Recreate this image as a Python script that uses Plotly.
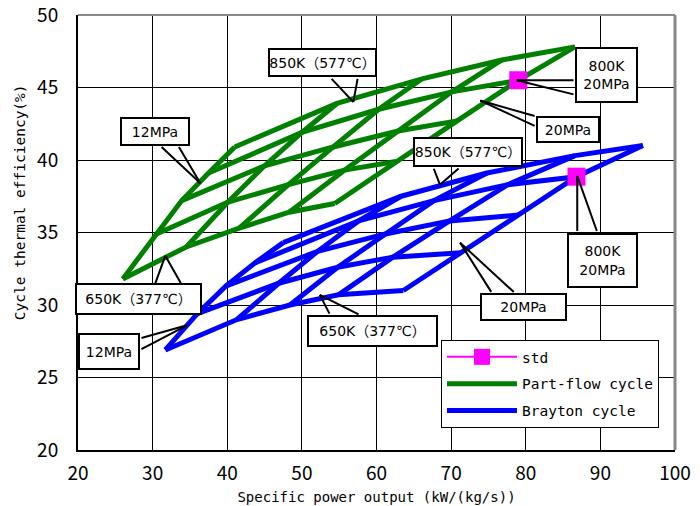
import plotly.graph_objects as go

# Grid parameters
temps_K = [650, 700, 750, 800, 850]
press_MPa = [12, 14, 16, 18, 20]

# Part-flow cycle: rows = temperature, cols = pressure
pf_power = [
    [26.0, 34.5, 41.6, 48.3, 54.4],
    [30.5, 40.1, 48.2, 55.7, 62.6],
    [33.9, 45.0, 54.2, 62.9, 70.8],
    [37.5, 50.0, 60.3, 70.1, 79.0],
    [41.0, 54.7, 66.1, 76.8, 86.6],
]
pf_eff = [
    [31.8, 34.0, 35.3, 36.4, 37.0],
    [34.9, 37.1, 38.3, 39.3, 39.9],
    [37.2, 39.6, 40.9, 42.0, 42.7],
    [39.1, 41.9, 43.5, 44.7, 45.5],
    [40.9, 43.9, 45.6, 46.9, 47.8],
]

# Brayton cycle
br_power = [
    [31.7, 41.3, 48.4, 54.9, 63.6],
    [36.0, 46.9, 54.8, 62.2, 71.3],
    [39.8, 52.1, 61.2, 69.8, 79.0],
    [43.7, 57.6, 67.7, 77.6, 86.8],
    [47.5, 63.3, 74.8, 86.6, 95.7],
]
br_eff = [
    [26.9, 29.0, 30.0, 30.7, 31.0],
    [29.4, 31.5, 32.6, 33.3, 33.6],
    [31.3, 33.7, 34.9, 35.8, 36.2],
    [32.9, 35.8, 37.2, 38.3, 38.85],
    [34.3, 37.5, 39.1, 40.3, 41.0],
]

# Standard points (800K, 20MPa)
std_power = [79.0, None, 86.8]
std_eff = [45.5, None, 38.85]

# Callout labels: text, box centre (x, y), tip (x, y), wedge base points
callout_text = ["850K（577℃）", "12MPa", "650K（377℃）", "800K<br>20MPa", "20MPa",
                "850K（577℃）", "800K<br>20MPa", "20MPa", "650K（377℃）", "12MPa"]
callout_box = [(52.8, 46.72), (30.3, 41.97), (28.1, 30.41), (90.84, 45.86), (85.68, 42.1),
               (72.28, 40.55), (90.31, 33.07), (79.72, 29.86), (59.48, 28.21), (24.16, 26.79)]
callout_size = [(109, 29), (70, 29), (127, 32), (63, 56), (64, 27),
                (110, 30), (71, 55), (87, 28), (131, 32), (62, 37)]
callout_tip = [(56.9, 44.0), (36.4, 38.4), (31.7, 33.4), (78.8, 45.5), (73.9, 44.1),
               (68.5, 38.3), (86.9, 38.9), (71.2, 34.3), (52.4, 30.7), (34.6, 28.6)]
callout_base = [((53.8, 45.7), (57.5, 45.7)),
                ((31.0, 41.0), (33.4, 41.0)),
                ((30.3, 31.4), (33.9, 31.4)),
                ((86.6, 45.5), (86.6, 44.5)),
                ((81.4, 43.0), (81.4, 42.3)),
                ((67.6, 39.5), (71.2, 39.5)),
                ((86.9, 35.0), (89.6, 35.0)),
                ((75.5, 30.8), (78.6, 30.8)),
                ((53.8, 29.3), (57.8, 29.3)),
                ((28.3, 27.7), (28.3, 26.9))]


def carpet(px, py):
    xs, ys = [], []
    n_t, n_p = len(px), len(px[0])
    for i in range(n_t):
        xs += list(px[i]) + [None]
        ys += list(py[i]) + [None]
    for j in range(n_p):
        xs += [px[i][j] for i in range(n_t)] + [None]
        ys += [py[i][j] for i in range(n_t)] + [None]
    return xs, ys


FONT = "DejaVu Sans, Noto Sans CJK JP"
MONO = "DejaVu Sans Mono, Noto Sans CJK JP"
TICKFONT = "Noto Sans CJK JP"

fig = go.Figure()
bx, by = carpet(br_power, br_eff)
gx, gy = carpet(pf_power, pf_eff)

fig.add_trace(go.Scatter(x=gx, y=gy, mode="lines", name="Part-flow cycle",
                         line=dict(color="#008000", width=5), legendrank=2,
                         legendgroup="g2"))
fig.add_trace(go.Scatter(x=bx, y=by, mode="lines", name="Brayton cycle",
                         line=dict(color="#0000FF", width=5), legendrank=3,
                         legendgroup="g3"))
fig.add_trace(go.Scatter(x=std_power, y=std_eff, mode="lines+markers", name="std",
                         line=dict(color="#FF00FF", width=2),
                         marker=dict(symbol="square", size=18, color="#FF00FF"),
                         connectgaps=False, legendrank=1, legendgroup="g1"))

# wedge tails first
for tip, base in zip(callout_tip, callout_base):
    for bpt in base:
        fig.add_annotation(x=tip[0], y=tip[1], ax=bpt[0], ay=bpt[1], axref="x", ayref="y",
                           text="", showarrow=True, arrowhead=0, arrowwidth=2,
                           arrowcolor="black", standoff=0, startstandoff=0)
# boxes
for text, box, size in zip(callout_text, callout_box, callout_size):
    fig.add_annotation(x=box[0], y=box[1], text=text, showarrow=False,
                       width=size[0] - 4, height=size[1] - 4, align="center", valign="middle",
                       bgcolor="white", bordercolor="black", borderwidth=2, borderpad=0,
                       font=dict(family=FONT, size=14, color="black"))

# y axis title (placed slightly above centre, as in the original)
fig.add_annotation(xref="paper", yref="paper", x=-0.097, y=0.57, xanchor="center",
                   yanchor="middle", text="Cycle thermal efficiency(%)", textangle=-90,
                   showarrow=False, font=dict(family=MONO, size=14.5, color="black"))

fig.update_layout(
    width=700, height=506,
    margin=dict(l=78, r=25, t=15, b=56),
    paper_bgcolor="white", plot_bgcolor="white",
    font=dict(family=FONT, size=14, color="black"),
    showlegend=True,
    legend=dict(x=0.608, y=0.253, xanchor="left", yanchor="top",
                bgcolor="white", bordercolor="black", borderwidth=1,
                font=dict(family=MONO, size=14.5, color="black"),
                itemwidth=70, tracegroupgap=5),
    xaxis=dict(range=[20, 100], dtick=10, tick0=20, showgrid=True,
               gridcolor="black", gridwidth=1, showline=True, linecolor="black",
               linewidth=2, ticks="", zeroline=False, automargin=False,
               ticklabelstandoff=5, ticklabeloverflow="allow",
               tickfont=dict(family=TICKFONT, size=19),
               title=dict(text="Specific power output (kW/(kg/s))",
                          font=dict(family=MONO, size=14), standoff=8)),
    yaxis=dict(range=[20, 50], dtick=5, tick0=20, showgrid=True,
               gridcolor="black", gridwidth=1, showline=True, linecolor="black",
               linewidth=2, ticks="", zeroline=False, automargin=False,
               ticklabelstandoff=14, ticklabeloverflow="allow",
               tickfont=dict(family=TICKFONT, size=19)),
)
fig.add_shape(type="line", xref="paper", yref="paper", x0=0, x1=1, y0=1, y1=1,
              line=dict(color="#888888", width=2))
fig.add_shape(type="line", xref="paper", yref="paper", x0=1, x1=1, y0=0, y1=1,
              line=dict(color="#888888", width=3))

fig.write_html("out.html")
